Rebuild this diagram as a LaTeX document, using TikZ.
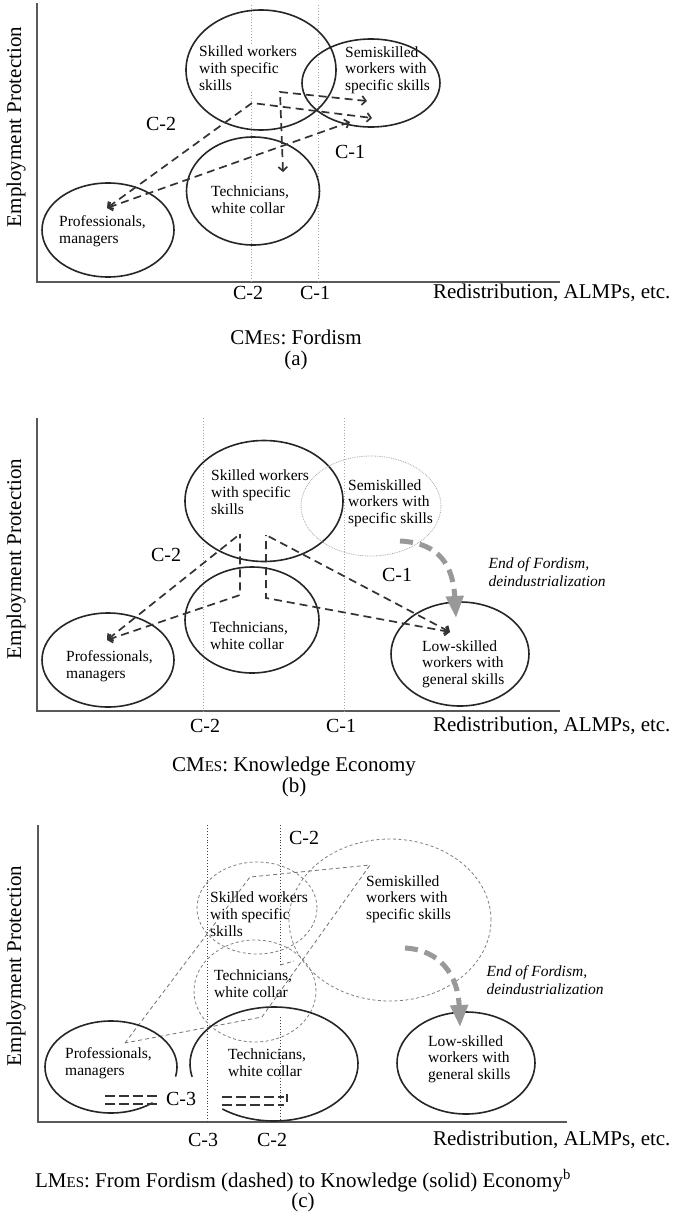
\documentclass[tikz,border=0pt]{standalone}
\usepackage{fontspec}
\setmainfont{Liberation Serif}
\usetikzlibrary{arrows.meta,shapes.geometric}
\newcommand{\smcap}[1]{{\fontsize{15}{15}\selectfont #1}}
\begin{document}
\begin{tikzpicture}[x=1pt,y=-1pt]
    % Define styles
    \tikzset{
        group/.style={draw=black!85, line width=1.6pt, ellipse, inner sep=0pt},
        oldgroup/.style={draw=black!50, line width=0.8pt, dash pattern=on 3pt off 2.5pt, ellipse, inner sep=0pt},
        fadedgroup/.style={draw=black!35, line width=0.8pt, densely dotted, ellipse, inner sep=0pt},
        lbl/.style={font=\fontsize{15.5}{16.7}\selectfont, align=left, anchor=west, inner sep=1pt},
        clbl/.style={font=\fontsize{20}{20}\selectfont},
        axlbl/.style={font=\fontsize{21}{21}\selectfont},
        caption/.style={font=\fontsize{21}{20.5}\selectfont, align=center},
        note/.style={font=\fontsize{15.5}{17.5}\selectfont\itshape, align=left, anchor=west},
        axisline/.style={draw=black!65, line width=1.6pt},
        cutline/.style={draw=black!35, line width=0.9pt, dotted},
        darkcut/.style={draw=black!75, line width=0.9pt, dotted},
        coalition/.style={draw=black!80, line width=1.7pt, dash pattern=on 8pt off 5pt, >={Straight Barb[length=4pt,width=9pt]}},
        oldline/.style={draw=black!55, line width=0.8pt, dash pattern=on 4pt off 3pt},
        drift/.style={draw=black!40, line width=5pt, dash pattern=on 13pt off 7pt, -{Triangle[length=22pt,width=17pt]}},
        pairline/.style={draw=black!80, line width=2pt, dash pattern=on 10pt off 4pt}
    }
    \fill[white] (0,0) rectangle (676,1212);
    \useasboundingbox (0,0) rectangle (676,1212);

    % Panel (a): CMEs, Fordism
    \draw[axisline] (37,3) -- (37,282) -- (560,282);
    \draw[cutline] (251,5) -- (251,282);
    \draw[cutline] (318,5) -- (318,282);
    \node[lbl, fill=white] (skAt) at (198,68) {Skilled workers\\with specific\\skills};
    \node[lbl, fill=white] (semAt) at (344,70) {Semiskilled\\workers with\\specific skills};
    \node[lbl, fill=white] (techAt) at (210,200) {Technicians,\\white collar};
    \node[lbl, fill=white] (profAt) at (58,231) {Professionals,\\managers};
    \node[group, minimum width=150, minimum height=120] (skA) at (261,70) {};
    \node[group, minimum width=138, minimum height=88] (semA) at (371,83) {};
    \node[group, minimum width=133, minimum height=108] (techA) at (253,191) {};
    \node[group, minimum width=132, minimum height=94] (profA) at (108,230) {};
    \coordinate (pA) at (107,208);
    \coordinate (kA) at (252,103);
    \coordinate (sA1) at (372,118);
    \coordinate (tA) at (283,172);
    \coordinate (bA) at (280,92);
    \coordinate (sA2) at (367,101);
    \coordinate (sA3) at (350,122);
    \draw[coalition,<->] (pA) -- (kA) -- (sA1);
    \draw[coalition,<->] (tA) -- (bA) -- (sA2);
    \draw[coalition,<->] (pA) -- (sA3);
    \node[clbl] (c2A) at (161,124) {C-2};
    \node[clbl] (c1A) at (350,152) {C-1};
    \node[clbl] (xc2A) at (248,293) {C-2};
    \node[clbl] (xc1A) at (315,293) {C-1};
    \node[axlbl, anchor=east] (xA) at (674,293) {Redistribution, ALMPs, etc.};
    \node[axlbl, rotate=90] (yA) at (16,127) {Employment Protection};
    \node[caption] (ttlA) at (296,350) {CM\smcap{ES}: Fordism\\(a)};

    % Panel (b): CMEs, knowledge economy
    \draw[axisline] (37,418) -- (37,711) -- (560,711);
    \draw[cutline] (203,418) -- (203,711);
    \draw[cutline] (344,418) -- (344,711);
    \node[lbl] (skBt) at (210,492) {Skilled workers\\with specific\\skills};
    \node[lbl] (semBt) at (347,503) {Semiskilled\\workers with\\specific skills};
    \node[lbl] (techBt) at (209,636) {Technicians,\\white collar};
    \node[lbl] (profBt) at (65,666) {Professionals,\\managers};
    \node[lbl] (lowBt) at (421,664) {Low-skilled\\workers with\\general skills};
    \node[group, minimum width=158, minimum height=121] (skB) at (264,501) {};
    \node[fadedgroup, minimum width=140, minimum height=100] (semB) at (371,506) {};
    \node[group, minimum width=134, minimum height=106] (techB) at (252,620) {};
    \node[group, minimum width=132, minimum height=94] (profB) at (108,660) {};
    \node[group, minimum width=138, minimum height=104] (lowB) at (460,654) {};
    \coordinate (pB) at (107,640);
    \coordinate (kB1) at (240,534);
    \coordinate (tB1) at (240,595);
    \coordinate (kB2) at (266,535);
    \coordinate (tB2) at (266,598);
    \coordinate (lB) at (450,632);
    \draw[coalition,<-] (pB) -- (kB1);
    \draw[coalition,<-] (pB) -- (tB1) -- (kB1);
    \draw[coalition,<-] (lB) -- (kB2);
    \draw[coalition,<-] (lB) -- (tB2) -- (kB2);
    \coordinate (dB0) at (400,541);
    \coordinate (dB1) at (456,618);
    \draw[drift] (dB0) .. controls (440,543) and (453,566) .. (dB1);
    \node[note] (noteB) at (485,572) {End of Fordism,\\deindustrialization};
    \node[clbl] (c2B) at (166,555) {C-2};
    \node[clbl] (c1B) at (397,575) {C-1};
    \node[clbl] (xc2B) at (205,726) {C-2};
    \node[clbl] (xc1B) at (341,726) {C-1};
    \node[axlbl, anchor=east] (xB) at (674,726) {Redistribution, ALMPs, etc.};
    \node[axlbl, rotate=90] (yB) at (16,559) {Employment Protection};
    \node[caption] (ttlB) at (294,777) {CM\smcap{ES}: Knowledge Economy\\(b)};

    % Panel (c): LMEs, Fordism (dashed) to knowledge economy (solid)
    \draw[axisline] (38,825) -- (38,1122) -- (567,1122);
    \draw[darkcut] (207,825) -- (207,1122);
    \draw[darkcut] (280,825) -- (280,965);
    \draw[darkcut] (280,1017) -- (280,1122);
    \node[oldgroup, minimum width=120, minimum height=92] (skC) at (257,908) {};
    \node[oldgroup, minimum width=122, minimum height=102] (techC) at (255,991) {};
    \node[oldgroup, minimum width=202, minimum height=162] (semC) at (390,920) {};
    \node[lbl] (skCt) at (209,914) {Skilled workers\\with specific\\skills};
    \node[lbl] (techCt) at (213,984) {Technicians,\\white collar};
    \node[lbl, fill=white] (semCt) at (365,899) {Semiskilled\\workers with\\specific skills};
    \coordinate (pC) at (125,1043);
    \coordinate (kC) at (250,877);
    \coordinate (sC) at (370,865);
    \coordinate (tC) at (262,1017);
    \coordinate (cutC) at (280,965);
    \coordinate (cutD) at (294,961);
    \draw[oldline] (pC) -- (kC) -- (sC) -- (tC) -- cycle;
    \draw[oldline] (cutC) -- (cutD);
    \coordinate (profC) at (111,1067);
    \coordinate (techS) at (274,1064);
    \draw[draw=black!85, line width=1.6pt] (profC) ++(12:66 and 46) arc[start angle=12, end angle=-309, x radius=66, y radius=46];
    \draw[draw=black!85, line width=1.6pt] (techS) ++(167:84 and 57) arc[start angle=167, end angle=488, x radius=84, y radius=57];
    \node[group, minimum width=138, minimum height=102] (lowC) at (466,1063) {};
    \node[lbl] (profCt) at (64,1063) {Professionals,\\managers};
    \node[lbl] (techSt) at (227,1063) {Technicians,\\white collar};
    \node[lbl] (lowCt) at (427,1059) {Low-skilled\\workers with\\general skills};
    \foreach \y in {1096,1104} {
        \draw[pairline] (105,\y) -- (157,\y);
        \draw[pairline] (222,\y+1) -- (284,\y+1);
    }
    \draw[draw=black!80, line width=2pt] (287,1094) -- (287,1102);
    \coordinate (dC0) at (405,948);
    \coordinate (dC1) at (460,1027);
    \draw[drift] (dC0) .. controls (440,950) and (458,975) .. (dC1);
    \node[note] (noteC) at (483,980) {End of Fordism,\\deindustrialization};
    \node[clbl] (c2C) at (304,838) {C-2};
    \node[clbl] (c3C) at (181,1099) {C-3};
    \node[clbl] (xc3C) at (203,1140) {C-3};
    \node[clbl] (xc2C) at (272,1140) {C-2};
    \node[axlbl, anchor=east] (xC) at (674,1140) {Redistribution, ALMPs, etc.};
    \node[axlbl, rotate=90] (yC) at (16,966) {Employment Protection};
    \node[caption] (ttlC) at (303,1191) {LM\smcap{ES}: From Fordism (dashed) to Knowledge (solid) Economy\textsuperscript{b}\\(c)};
\end{tikzpicture}
\end{document}
